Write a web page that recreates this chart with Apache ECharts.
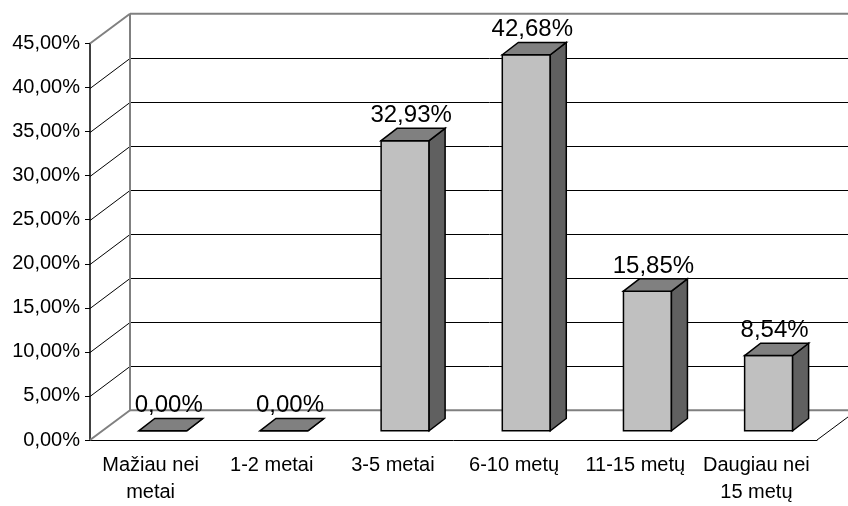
<!DOCTYPE html>
<html>
<head>
<meta charset="utf-8">
<script src="https://cdn.jsdelivr.net/npm/echarts@6/dist/echarts.min.js"></script>
<style>
  html, body { margin: 0; padding: 0; background: #fff; }
  #chart { width: 848px; height: 506px; }
</style>
</head>
<body>
<div id="chart"></div>
<script>
// Work experience groups and their shares (%)
const categories = ['Mažiau nei\nmetai', '1-2 metai', '3-5 metai', '6-10 metų', '11-15 metų', 'Daugiau nei\n15 metų'];
const shares = [0, 0, 32.93, 42.68, 15.85, 8.54];
// Value ticks on the walls
const gridValues = [0, 5, 10, 15, 20, 25, 30, 35, 40, 45];

const FONT = '"Liberation Sans", Arial, Helvetica, sans-serif';
const WALL = [40, -29.7];      // depth offset of the back wall
const BAR_IN = [12.2, -9.2];   // how far behind the front plane the columns stand
const BAR_DEPTH = [16, -12.3]; // thickness of each column
const fmt = v => v.toFixed(2).replace('.', ',') + '%';
const crisp = y => Math.round(y) + 0.5;

const chart = echarts.init(document.getElementById('chart'), null, { renderer: 'canvas' });

// Side wall, back wall and floor of the 3D box
function renderWalls(params, api) {
  const cs = params.coordSys;
  const v = api.value(1);
  const y = api.coord([0, v])[1];
  const y0 = api.coord([0, 0])[1];
  const x0 = cs.x;
  const xr = cs.x + cs.width;
  const edge = v === 0 || v === 45;
  const color = edge ? '#808080' : '#000';
  const lw = edge ? 2 : 1;
  const yy = edge ? y : crisp(y);
  const yb = edge ? y + WALL[1] : crisp(y + WALL[1]);
  const children = [
    { type: 'line', shape: { x1: x0, y1: yy, x2: x0 + WALL[0], y2: yb }, style: { stroke: color, lineWidth: lw } },
    { type: 'line', shape: { x1: x0 + WALL[0], y1: yb, x2: xr + WALL[0] + 10, y2: yb }, style: { stroke: color, lineWidth: lw } }
  ];
  if (v === 0) {
    children.push({ type: 'line', shape: { x1: xr, y1: y, x2: xr + WALL[0], y2: y + WALL[1] }, style: { stroke: '#000', lineWidth: 1 } });
  }
  if (v === 45) {
    children.push({ type: 'line', shape: { x1: x0 + WALL[0], y1: y + WALL[1], x2: x0 + WALL[0], y2: y0 + WALL[1] }, style: { stroke: '#808080', lineWidth: 2 } });
  }
  return { type: 'group', children };
}

// 3D columns with value labels
function renderBars(params, api) {
  const i = api.value(0);
  const v = api.value(1);
  const top = api.coord([i, v]);
  const base = api.coord([i, 0]);
  const w = api.size([1, 0])[0] * 0.396;
  const xl = top[0] - w / 2 + BAR_IN[0];
  const xr = xl + w;
  const yt = top[1] + BAR_IN[1];
  const yb = base[1] + BAR_IN[1];
  const dx = BAR_DEPTH[0], dy = BAR_DEPTH[1];
  const stroke = { stroke: '#000', lineWidth: 1.5, lineJoin: 'miter' };
  return {
    type: 'group',
    children: [
      { type: 'polygon', shape: { points: [[xl, yt], [xr, yt], [xr, yb], [xl, yb]] }, style: Object.assign({ fill: '#C0C0C0' }, stroke) },
      { type: 'polygon', shape: { points: [[xr, yt], [xr + dx, yt + dy], [xr + dx, yb + dy], [xr, yb]] }, style: Object.assign({ fill: '#606060' }, stroke) },
      { type: 'polygon', shape: { points: [[xl, yt], [xl + dx, yt + dy], [xr + dx, yt + dy], [xr, yt]] }, style: Object.assign({ fill: '#808080' }, stroke) },
      { type: 'text', x: (xl + xr) / 2 + 6, y: yt - 25,
        style: { text: fmt(v), fontFamily: FONT, fontSize: 24, fill: '#000', align: 'center', verticalAlign: 'middle' } }
    ]
  };
}

chart.setOption({
  animation: false,
  grid: { left: 90, right: 31, top: 43.5, bottom: 62 },
  xAxis: {
    type: 'category',
    data: categories,
    axisLine: { lineStyle: { color: '#000', width: 1 } },
    axisTick: { length: 7, lineStyle: { color: '#000' } },
    axisLabel: { color: '#000', fontFamily: FONT, fontSize: 20, lineHeight: 27, margin: 12, interval: 0 }
  },
  yAxis: {
    type: 'value',
    min: 0, max: 45, interval: 5,
    axisLine: { show: true, lineStyle: { color: '#000', width: 1.5 } },
    axisTick: { show: true, length: 5, lineStyle: { color: '#000' } },
    splitLine: { show: false },
    axisLabel: { formatter: fmt, color: '#000', fontFamily: FONT, fontSize: 20, margin: 10 }
  },
  series: [
    { type: 'custom', renderItem: renderWalls, data: gridValues.map(v => [0, v]), z: 1, silent: true },
    { type: 'custom', renderItem: renderBars, data: shares.map((v, i) => [i, v]), z: 3, silent: true }
  ]
});
</script>
</body>
</html>
